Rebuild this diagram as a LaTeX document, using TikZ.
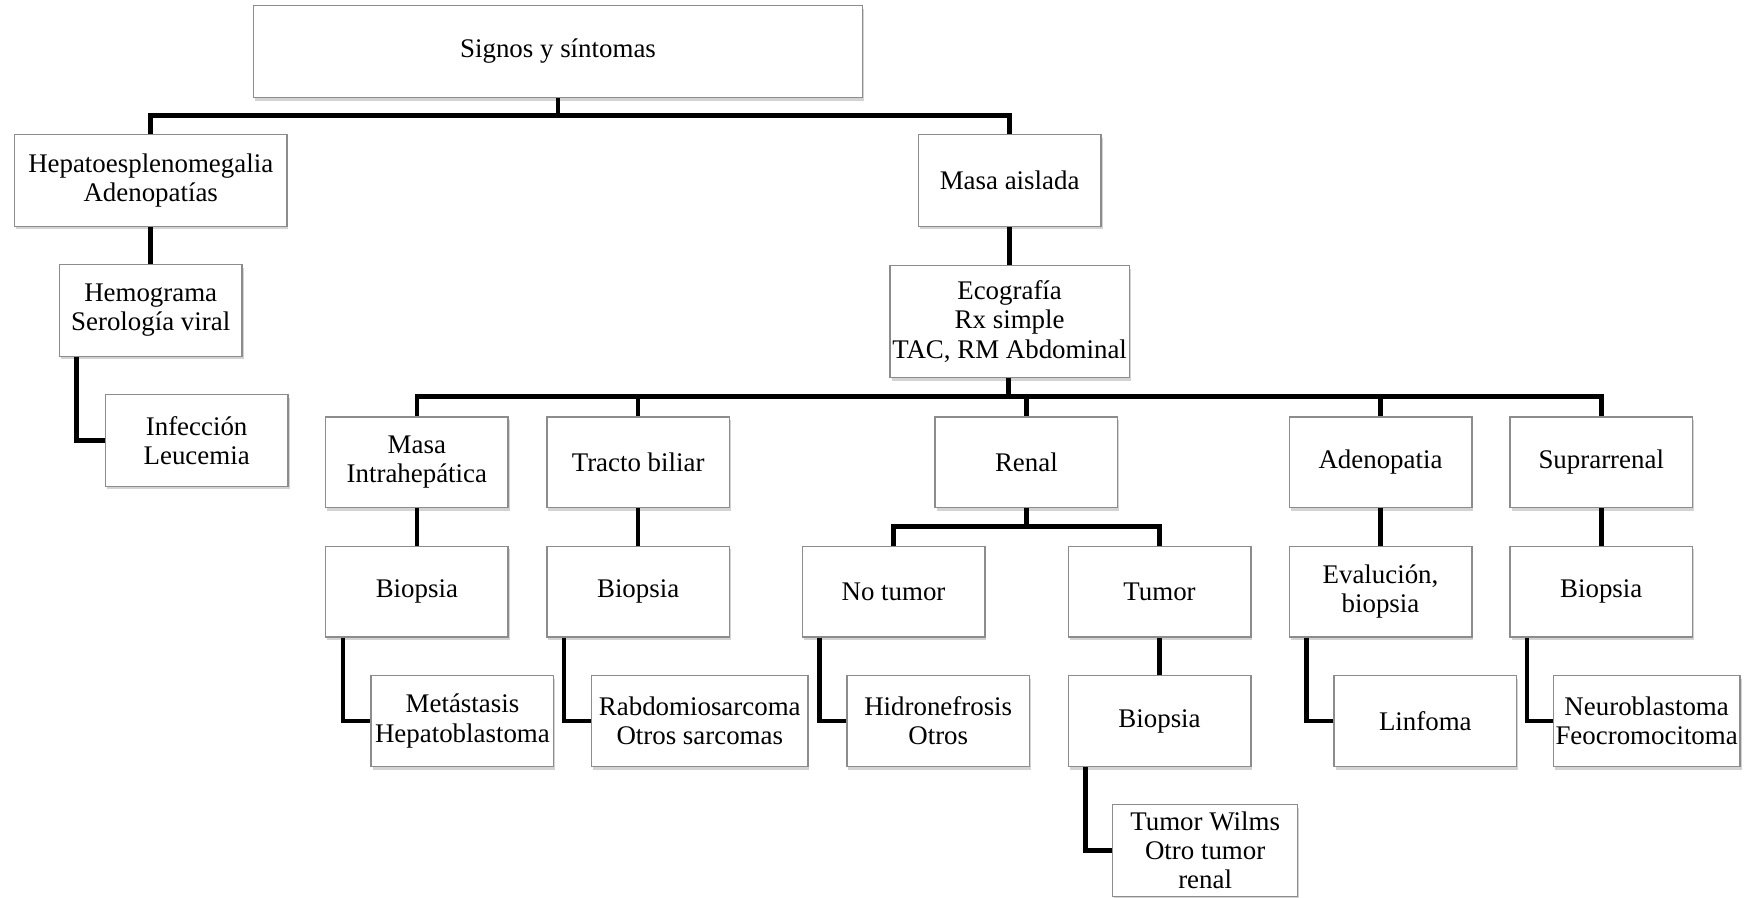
\documentclass[tikz,border=0pt]{standalone}
\usepackage{fontspec}
\setmainfont{Liberation Serif}
\usetikzlibrary{shadows}

\tikzset{
    box/.style={draw=black!45, line width=0.6pt, fill=white, align=center,
        minimum width=81.5pt, minimum height=40.5pt, inner sep=1pt,
        font=\fontsize{12}{13}\selectfont,
        drop shadow={shadow xshift=0.7pt, shadow yshift=-1.4pt, opacity=0.35}},
    link/.style={line width=2pt, black}
}

\begin{document}
\begin{tikzpicture}[x=0.5pt, y=-0.5pt]
    \useasboundingbox (0,0) rectangle (1568,801);

    % Nodes
    \node[box, minimum width=272pt, minimum height=41pt] (top) at (498,46) {Signos y síntomas};
    \node[box, minimum width=121.5pt, minimum height=41pt] (hep) at (134.5,161) {Hepatoesplenomegalia\\Adenopatías};
    \node[box, minimum height=41pt] (masa) at (901,161) {Masa aislada};
    \node[box, minimum height=41pt] (hemo) at (134.5,277) {Hemograma\\Serología viral};
    \node[box, minimum height=41pt] (infec) at (175.5,393) {Infección\\Leucemia};
    \node[box, minimum width=104.5pt, minimum height=50pt] (eco) at (901,287) {Ecografía\\Rx simple\\TAC, RM Abdominal};

        % level 3
        \node[box] (intra)  at (372,412.5)  {Masa\\Intrahepática};
        \node[box] (biliar) at (569.5,412.5) {Tracto biliar};
        \node[box] (renal)  at (916,412.5)  {Renal};
        \node[box] (adeno)  at (1232,412.5) {Adenopatia};
        \node[box] (supra)  at (1429,412.5) {Suprarrenal};

        % level 4
        \node[box] (bioA)    at (372,528)    {Biopsia};
        \node[box] (bioB)    at (569.5,528)  {Biopsia};
        \node[box] (notumor) at (797.4,528)  {No tumor};
        \node[box] (tumor)   at (1034.8,528) {Tumor};
        \node[box] (evalu)   at (1232,528)   {Evalución,\\biopsia};
        \node[box] (bioE)    at (1429,528)   {Biopsia};

        % level 5
        \node[box] (meta)    at (412.7,643.5)  {Metástasis\\Hepatoblastoma};
        \node[box, minimum width=96.5pt] (rabdo) at (624.5,643.5) {Rabdomiosarcoma\\Otros sarcomas};
        \node[box] (hidro)   at (837.3,643.5)  {Hidronefrosis\\Otros};
        \node[box] (bioT)    at (1034.8,643.5) {Biopsia};
        \node[box] (linfoma) at (1272,643.5)   {Linfoma};
        \node[box] (neuro)   at (1469.5,643.5) {Neuroblastoma\\Feocromocitoma};
        \node[box, minimum width=82.5pt, minimum height=41pt] (wilms) at (1075.5,759) {Tumor Wilms\\Otro tumor\\renal};

    % Buses
    \coordinate (busA) at (498,103);
    \coordinate (busB) at (900,354);
    \coordinate (busC) at (916,470);
    \draw[link] (top.south) -- (busA);
    \draw[link] (hep.north) |- (busA) -| (masa.north);
    \draw[link] (eco.south -| busB) -- (busB);
    \draw[link] (intra.north) |- (busB) -| (supra.north);
    \foreach \n in {biliar,renal,adeno}
        \draw[link] (\n.north) -- (\n.north |- busB);
    \draw[link] (renal.south) -- (busC);
    \draw[link] (notumor.north) |- (busC) -| (tumor.north);

    % Straight links
    \draw[link] (hep) -- (hemo);
    \draw[link] (masa) -- (eco);
    \draw[link] (intra) -- (bioA);
    \draw[link] (biliar) -- (bioB);
    \draw[link] (tumor) -- (bioT);
    \draw[link] (adeno) -- (evalu);
    \draw[link] (supra) -- (bioE);

    % Elbow links
    \draw[link] ([xshift=8pt]hemo.south west) |- (infec.west);
    \draw[link] ([xshift=8pt]bioA.south west) |- (meta.west);
    \draw[link] ([xshift=8pt]bioB.south west) |- (rabdo.west);
    \draw[link] ([xshift=8pt]notumor.south west) |- (hidro.west);
    \draw[link] ([xshift=8pt]bioT.south west) |- (wilms.west);
    \draw[link] ([xshift=8pt]evalu.south west) |- (linfoma.west);
    \draw[link] ([xshift=8pt]bioE.south west) |- (neuro.west);
\end{tikzpicture}
\end{document}
